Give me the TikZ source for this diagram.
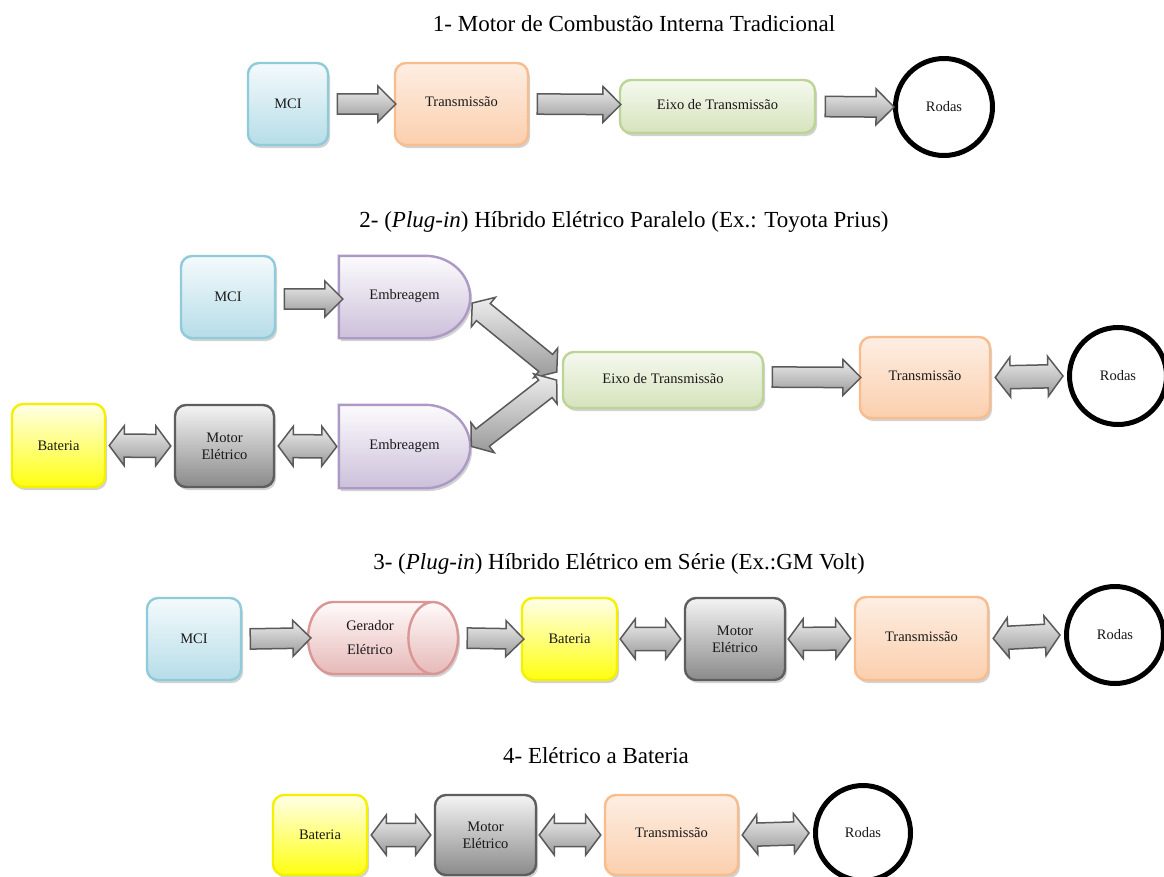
\documentclass[tikz,border=0pt]{standalone}
\usepackage{fontspec}
\setmainfont{Liberation Serif}
\usetikzlibrary{shapes.geometric,shapes.arrows,calc,shadows}
\pgfdeclarelayer{background}
\pgfsetlayers{background,main}
\definecolor{arrline}{HTML}{5A5A5A}
\definecolor{arrtop}{HTML}{EDEDED}
\definecolor{arrbot}{HTML}{9A9A9A}
\definecolor{bluetop}{HTML}{F4FAFC}
\definecolor{bluebot}{HTML}{B6DDE8}
\definecolor{blueln}{HTML}{8FCBDA}
\definecolor{ortop}{HTML}{FDEEE3}
\definecolor{orbot}{HTML}{FBCFAD}
\definecolor{orln}{HTML}{F9BC8C}
\definecolor{grtop}{HTML}{F5F9EF}
\definecolor{grbot}{HTML}{D6E3BC}
\definecolor{grln}{HTML}{BDD497}
\definecolor{putop}{HTML}{FCFBFD}
\definecolor{pubot}{HTML}{CCC0DA}
\definecolor{puln}{HTML}{AC99C6}
\definecolor{yetop}{HTML}{FFFFE8}
\definecolor{yebot}{HTML}{FFFF10}
\definecolor{yeln}{HTML}{F5F000}
\definecolor{gytop}{HTML}{F4F4F4}
\definecolor{gybot}{HTML}{8A8A8A}
\definecolor{gyln}{HTML}{5E5E5E}
\definecolor{pktop}{HTML}{FFFAFA}
\definecolor{pkbot}{HTML}{E6B9B8}
\definecolor{pkln}{HTML}{D99694}
\tikzset{
  txt/.style={font=\fontsize{14.5}{17}\selectfont, align=center, text=black!90},
  ttl/.style={font=\fontsize{23}{26}\selectfont},
  box/.style={txt, rounded corners=11pt, line width=2.4pt, inner sep=0pt,
    drop shadow={shadow xshift=2pt, shadow yshift=-3pt, opacity=0.35}},
  bluebox/.style={box, draw=blueln, top color=bluetop, bottom color=bluebot},
  orbox/.style={box, draw=orln, top color=ortop, bottom color=orbot},
  grbox/.style={box, draw=grln, top color=grtop, bottom color=grbot},
  yebox/.style={box, draw=yeln, top color=yetop, bottom color=yebot},
  gybox/.style={box, draw=gyln, top color=gytop, bottom color=gybot},
  embtxt/.style={txt, inner sep=0pt},
  embshape/.style={draw=puln, line width=2.4pt, top color=putop, bottom color=pubot,
    drop shadow={shadow xshift=2pt, shadow yshift=-3pt, opacity=0.35}},
  wheel/.style={txt, circle, draw=black, line width=5pt, fill=white, inner sep=0pt},
  sarr/.style={single arrow, draw=arrline, line width=1.5pt, top color=arrtop, bottom color=arrbot,
    inner sep=0pt, text height=17pt, text depth=0pt, minimum width=36pt, single arrow head indent=0pt},
  darr/.style={double arrow, draw=arrline, line width=1.5pt, top color=arrtop, bottom color=arrbot,
    inner sep=0pt, text height=18pt, text depth=0pt, minimum width=40pt, double arrow tip angle=106},
}
\newcommand\SArr[2]{\path let \p1=#1, \p2=#2, \n1={atan2(\y2-\y1,\x2-\x1)}, \n2={veclen(\x2-\x1,\y2-\y1)} in node[sarr, rotate=\n1, minimum height=\n2] at ($(\p1)!0.5!(\p2)$) {};}
\newcommand\DArr[3][40pt]{\path let \p1=#2, \p2=#3, \n1={atan2(\y2-\y1,\x2-\x1)}, \n2={veclen(\x2-\x1,\y2-\y1)} in node[darr, rotate=\n1, minimum height=\n2, minimum width=#1] at ($(\p1)!0.5!(\p2)$) {};}
\newcommand\EmbShape[1]{%
  \begin{pgfonlayer}{background}
  \path[embshape] (#1.north west) -- ([xshift=-45pt]#1.north east)
    .. controls ([xshift=-20pt]#1.north east) and ([yshift=22.6pt]#1.east) .. (#1.east)
    .. controls ([yshift=-22.6pt]#1.east) and ([xshift=-20pt]#1.south east) .. ([xshift=-45pt]#1.south east)
    -- (#1.south west) -- cycle;
  \end{pgfonlayer}}
\newcommand\up[1]{\raisebox{4pt}{#1}}
\begin{document}
\begin{tikzpicture}[x=1pt,y=-1pt]
\useasboundingbox (0,0) rectangle (1164,876);
\begin{pgfonlayer}{background}
\fill[white] (0,0) rectangle (1164,876);
\end{pgfonlayer}
% ---- titles
\node[ttl] (tt1) at (634,24) {1- Motor de Combustão Interna Tradicional};
\node[ttl] (tt2) at (624,222) {2- (\textit{Plug-in}) Híbrido Elétrico Paralelo (Ex.: Toyota Prius)};
\node[ttl] (tt3) at (619,564) {3- (\textit{Plug-in}) Híbrido Elétrico em Série (Ex.:GM Volt)};
\node[ttl] (tt4) at (596,756) {4- Elétrico a Bateria};
% ---- section 1
\node[bluebox, minimum width=80pt, minimum height=82pt] (m1) at (288,104) {MCI};
\node[orbox, minimum width=133pt, minimum height=82pt] (t1) at (461.5,104) {\up{Transmissão}};
\node[grbox, minimum width=195pt, minimum height=53pt] (e1) at (717.5,106.5) {\up{Eixo de Transmissão}};
\node[wheel, minimum size=97pt] (r1) at (944,107) {Rodas};
\SArr{($(m1.east)+(3pt,0)$)}{($(t1.west)+(-3pt,0)$)}
\SArr{($(t1.east)+(3pt,0)$)}{($(e1.west)+(-3pt,2pt)$)}
\SArr{($(e1.east)+(4pt,0)$)}{($(r1.west)+(-4pt,0)$)}
% ---- section 2
\node[bluebox, minimum width=94pt, minimum height=82pt] (m2) at (228,297) {MCI};
\node[embtxt, minimum width=131pt, minimum height=82pt] (emb1) at (404.5,297) {\raisebox{5pt}{Embreagem}};
\node[embtxt, minimum width=131pt, minimum height=83pt] (emb2) at (404.5,446.5) {\raisebox{5pt}{Embreagem}};
\EmbShape{emb1}
\EmbShape{emb2}
\node[yebox, minimum width=93pt, minimum height=83pt] (b2) at (58.5,445.5) {Bateria};
\node[gybox, minimum width=99pt, minimum height=82pt] (me2) at (224.5,446) {Motor\\Elétrico};
\node[grbox, minimum width=200pt, minimum height=56pt] (e2) at (663,380) {\up{Eixo de Transmissão}};
\node[orbox, minimum width=130pt, minimum height=81pt] (t2) at (925,377.5) {\up{Transmissão}};
\node[wheel, minimum size=97pt] (r2) at (1118,376) {Rodas};
\SArr{($(m2.east)+(3pt,-2pt)$)}{($(emb1.west)+(-1pt,-2pt)$)}
\DArr{($(b2.east)+(3pt,0)$)}{($(me2.west)+(-3pt,0)$)}
\DArr{($(me2.east)+(3pt,0)$)}{($(emb2.west)+(-2pt,0)$)}
\DArr[38pt]{($(emb1.east)+(2pt,-6pt)$)}{($(e2.west)+(-5pt,8pt)$)}
\DArr[38pt]{($(emb2.east)+(1pt,0)$)}{($(e2.west)+(-5pt,0pt)$)}
\SArr{($(e2.east)+(3pt,3pt)$)}{($(t2.west)+(-3pt,0)$)}
\DArr{($(t2.east)+(4pt,0)$)}{($(r2.west)+(-4pt,0)$)}
% ---- section 3
\node[bluebox, minimum width=94pt, minimum height=82pt] (m3) at (194,639) {MCI};
\node[cylinder, draw=pkln, line width=2.4pt, top color=pktop, bottom color=pkbot, aspect=1.45,
  minimum width=72pt, minimum height=150pt, inner sep=0pt, txt,
  drop shadow={shadow xshift=2pt, shadow yshift=-3pt, opacity=0.35}] (g3) at (370,638) {Gerador\\[7pt]Elétrico};
\node[yebox, minimum width=95pt, minimum height=82pt] (b3) at (569.5,639) {Bateria};
\node[gybox, minimum width=100pt, minimum height=82pt] (me3) at (735,639) {Motor\\Elétrico};
\node[orbox, minimum width=133pt, minimum height=83pt] (t3) at (921.5,638.5) {\up{Transmissão}};
\node[wheel, minimum size=97pt] (r3) at (1115,635) {Rodas};
\SArr{($(m3.east)+(3pt,0)$)}{($(g3.west)+(-1pt,0)$)}
\SArr{($(g3.east)+(3pt,0)$)}{($(b3.west)+(-2pt,0)$)}
\DArr{($(b3.east)+(2pt,0)$)}{($(me3.west)+(-3pt,0)$)}
\DArr{($(me3.east)+(2pt,0)$)}{($(t3.west)+(-3pt,0)$)}
\DArr{($(t3.east)+(4pt,0)$)}{($(r3.west)+(-4pt,0)$)}
% ---- section 4
\node[yebox, minimum width=94pt, minimum height=80pt] (b4) at (320,835) {Bateria};
\node[gybox, minimum width=101pt, minimum height=80pt] (me4) at (485.5,835) {Motor\\Elétrico};
\node[orbox, minimum width=133pt, minimum height=80pt] (t4) at (671.5,835) {\up{Transmissão}};
\node[wheel, minimum size=95pt] (r4) at (863,833) {Rodas};
\DArr{($(b4.east)+(3pt,0)$)}{($(me4.west)+(-3pt,0)$)}
\DArr{($(me4.east)+(2pt,0)$)}{($(t4.west)+(-3pt,0)$)}
\DArr{($(t4.east)+(3pt,0)$)}{($(r4.west)+(-4pt,0)$)}
\end{tikzpicture}
\end{document}
